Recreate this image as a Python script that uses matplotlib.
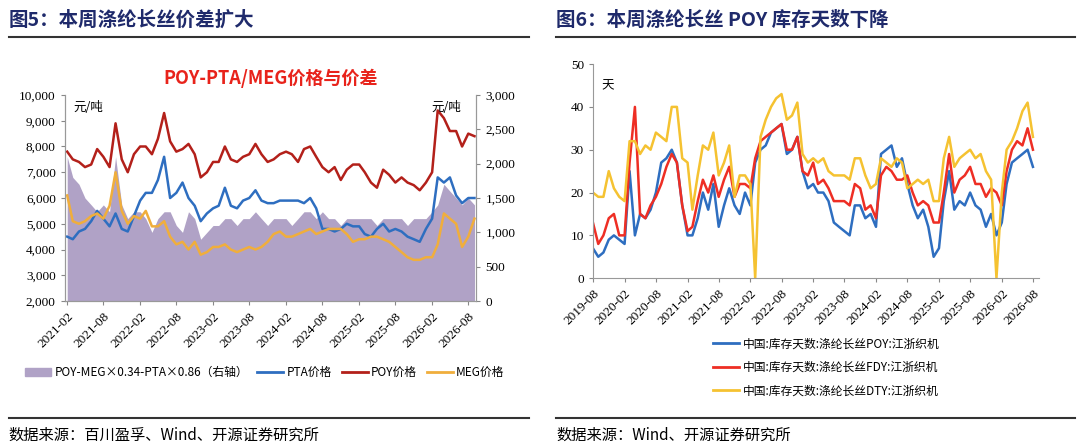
import matplotlib.pyplot as plt
import matplotlib.dates as mdates
import matplotlib.ticker as mticker
import pandas as pd
from matplotlib.lines import Line2D

plt.rcParams['font.family'] = ['Noto Sans CJK SC', 'DejaVu Sans']
SERIF = ['Liberation Serif', 'Noto Sans CJK SC']

# ---- left panel data (monthly, 2021-02 .. 2026-09) ----
left_dates = pd.date_range('2021-02-01', periods=68, freq='MS')
poy = [7800, 7500, 7400, 7200, 7300, 7900, 7600, 7200, 8900, 7500, 7000, 7700,
       8000, 8000, 7700, 8300, 9300, 8200, 7800, 7900, 8100, 7700, 6800, 7000,
       7400, 7400, 8000, 7500, 7400, 7600, 7700, 8100, 7700, 7400, 7500, 7700,
       7800, 7700, 7400, 7900, 8000, 7600, 7200, 7000, 7200, 6700, 7100, 7300,
       7300, 7000, 6600, 6400, 7100, 6900, 6600, 6800, 6600, 6500, 6300, 6600,
       7000, 9400, 9100, 8600, 8600, 8000, 8500, 8400]
pta = [4500, 4400, 4700, 4800, 5100, 5500, 5200, 4900, 5400, 4800, 4700, 5300,
       5900, 6200, 6200, 6700, 7600, 6000, 6200, 6600, 6000, 5700, 5100, 5400,
       5600, 5700, 6400, 5700, 5600, 5900, 6000, 6300, 5900, 5800, 5800, 5900,
       5900, 5900, 5900, 5800, 6000, 5600, 4800, 4800, 4700, 4800, 5000, 4900,
       4900, 4600, 4500, 4800, 5000, 4700, 4800, 4700, 4500, 4400, 4300, 4800,
       5200, 6800, 6600, 6800, 6100, 5800, 6000, 6000]
meg = [6100, 5100, 5000, 5100, 5300, 5400, 5200, 5700, 7000, 5500, 5000, 5300,
       5200, 5500, 4900, 4900, 5100, 4500, 4200, 4300, 4000, 4300, 3800, 3900,
       4100, 4100, 4200, 4000, 3900, 4000, 4100, 4000, 4100, 4300, 4600, 4700,
       4500, 4500, 4600, 4700, 4800, 4600, 4700, 4800, 4800, 4800, 4600, 4300,
       4400, 4400, 4500, 4500, 4400, 4300, 4100, 3900, 3700, 3600, 3600, 3700,
       3700, 4200, 5400, 5200, 5000, 4100, 4500, 5200]
spread = [2100, 1800, 1700, 1500, 1400, 1300, 1400, 1300, 2100, 1400, 1200, 1300,
          1300, 1200, 1000, 1200, 1300, 1300, 1100, 1000, 1300, 1200, 900, 1000,
          1100, 1100, 1200, 1200, 1100, 1200, 1200, 1300, 1200, 1100, 1200, 1200,
          1200, 1100, 1200, 1300, 1300, 1200, 1300, 1200, 1200, 1100, 1200, 1200,
          1200, 1200, 1200, 1100, 1200, 1200, 1200, 1200, 1100, 1200, 1200, 1200,
          1300, 1400, 1700, 1600, 1500, 1400, 1500, 1400]

# ---- right panel data (monthly, 2019-08 .. 2026-08) ----
right_dates = pd.date_range('2019-08-01', periods=85, freq='MS')
poy_days = [7, 5, 6, 9, 10, 9, 8, 25, 10, 15, 14, 16, 20, 27, 28, 30, 27, 17,
            10, 10, 14, 20, 16, 22, 12, 17, 21, 17, 15, 20, 17, 27, 30, 31, 34, 35,
            36, 29, 30, 33, 25, 21, 22, 20, 20, 18, 13, 12, 11, 10, 17, 17, 14, 15,
            12, 29, 30, 31, 26, 28, 22, 17, 14, 16, 12, 5, 7, 18, 25, 16, 18, 17,
            20, 17, 16, 12, 15, 10, 13, 22, 27, 28, 29, 30, 26]
fdy_days = [13, 8, 10, 14, 15, 10, 10, 27, 40, 15, 14, 17, 19, 22, 26, 29, 27, 17,
            11, 12, 18, 23, 20, 24, 19, 23, 26, 19, 22, 22, 21, 28, 32, 33, 34, 35,
            36, 30, 30, 33, 25, 24, 27, 22, 23, 21, 18, 18, 18, 17, 22, 21, 16, 17,
            14, 24, 26, 25, 23, 23, 24, 20, 17, 18, 17, 13, 13, 20, 29, 20, 23, 24,
            26, 22, 22, 19, 21, 20, 17, 25, 30, 32, 31, 35, 30]
dty_days = [20, 19, 19, 25, 21, 19, 18, 32, 32, 29, 31, 30, 34, 33, 32, 40, 40, 28,
            27, 16, 24, 31, 30, 34, 24, 27, 31, 19, 24, 24, 22, 0, 33, 37, 40, 42,
            43, 37, 38, 41, 29, 27, 28, 27, 28, 25, 24, 24, 24, 23, 28, 28, 24, 21,
            22, 28, 27, 26, 28, 27, 21, 22, 23, 22, 23, 18, 18, 28, 33, 26, 28, 29,
            30, 28, 29, 25, 23, 0, 20, 30, 32, 35, 39, 41, 33]

navy = '#1F2A6B'
fig = plt.figure(figsize=(10.8, 4.48), dpi=100)

# headers / footers
fig.text(0.008, 0.955, '图5：本周涤纶长丝价差扩大', fontsize=14, fontweight='bold', color=navy, va='center')
fig.text(0.515, 0.955, '图6：本周涤纶长丝 POY 库存天数下降', fontsize=14, fontweight='bold', color=navy, va='center')
for x0, x1 in [(0.008, 0.49), (0.515, 0.995)]:
    for y in (0.917, 0.067):
        fig.add_artist(Line2D([x0, x1], [y, y], color='#333333', lw=1.5))
fig.text(0.008, 0.028, '数据来源：百川盈孚、Wind、开源证券研究所', fontsize=11, va='center')
fig.text(0.515, 0.028, '数据来源：Wind、开源证券研究所', fontsize=11, va='center')

# ---- left chart ----
ax = fig.add_axes([0.060, 0.328, 0.381, 0.46])
ax2 = ax.twinx()
ax2.fill_between(left_dates, spread, 0, color='#B0A2C6', lw=0)
ax2.set_ylim(0, 3000)
ax2.set_yticks(range(0, 3001, 500))
ax.set_zorder(ax2.get_zorder() + 1)
ax.patch.set_visible(False)
ax.plot(left_dates, pta, color='#2E6EC0', lw=1.8)
ax.plot(left_dates, poy, color='#B3201A', lw=1.8)
ax.plot(left_dates, meg, color='#F0AE3C', lw=1.8)
ax.set_ylim(2000, 10000)
ax.set_yticks(range(2000, 10001, 1000))
ax.set_xlim(pd.Timestamp('2021-01-20'), pd.Timestamp('2026-09-10'))
ax.xaxis.set_major_locator(mdates.MonthLocator(bymonth=[2, 8]))
ax.xaxis.set_major_formatter(mdates.DateFormatter('%Y-%m'))
ax.yaxis.set_major_formatter(mticker.StrMethodFormatter('{x:,.0f}'))
ax2.yaxis.set_major_formatter(mticker.StrMethodFormatter('{x:,.0f}'))
for a in (ax, ax2):
    a.tick_params(labelsize=9.5, length=3, direction='out', color='#888888')
    for lab in a.get_yticklabels():
        lab.set_family(SERIF)
    a.spines['top'].set_visible(False)
    for s in ('left', 'right', 'bottom'):
        a.spines[s].set_color('#999999')
for lab in ax.get_xticklabels():
    lab.set_rotation(45)
    lab.set_ha('right')
    lab.set_rotation_mode('anchor')
    lab.set_family(SERIF)
ax.text(0.02, 0.97, '元/吨', transform=ax.transAxes, fontsize=9, va='top')
ax.text(0.89, 0.97, '元/吨', transform=ax.transAxes, fontsize=9, va='top')
ax.set_title('POY-PTA/MEG价格与价差', color='#E8231B', fontsize=13, fontweight='bold', pad=8)
handles = [plt.Rectangle((0, 0), 1, 1, color='#B0A2C6'),
           Line2D([], [], color='#2E6EC0', lw=2), Line2D([], [], color='#B3201A', lw=2),
           Line2D([], [], color='#F0AE3C', lw=2)]
fig.legend(handles, ['POY-MEG×0.34-PTA×0.86（右轴）', 'PTA价格', 'POY价格', 'MEG价格'],
           loc='center', bbox_to_anchor=(0.245, 0.168), ncol=4, frameon=False,
           fontsize=8.5, handlelength=2.2, handletextpad=0.3, columnspacing=0.8)

# ---- right chart ----
bx = fig.add_axes([0.549, 0.379, 0.413, 0.478])
bx.plot(right_dates, poy_days, color='#2E6EC0', lw=1.8)
bx.plot(right_dates, fdy_days, color='#EE2E24', lw=1.8)
bx.plot(right_dates, dty_days, color='#F5C231', lw=1.8)
bx.set_ylim(0, 50)
bx.set_xlim(pd.Timestamp('2019-08-01'), pd.Timestamp('2026-09-05'))
bx.xaxis.set_major_locator(mdates.MonthLocator(bymonth=[2, 8]))
bx.xaxis.set_major_formatter(mdates.DateFormatter('%Y-%m'))
bx.tick_params(labelsize=9.5, length=3, color='#888888')
for s in ('top', 'right'):
    bx.spines[s].set_visible(False)
for s in ('left', 'bottom'):
    bx.spines[s].set_color('#999999')
for lab in bx.get_xticklabels():
    lab.set_rotation(45)
    lab.set_ha('right')
    lab.set_rotation_mode('anchor')
    lab.set_family(SERIF)
for lab in bx.get_yticklabels():
    lab.set_family(SERIF)
bx.text(0.02, 0.93, '天', transform=bx.transAxes, fontsize=9, va='top')
rh = [Line2D([], [], color=c, lw=2) for c in ('#2E6EC0', '#EE2E24', '#F5C231')]
fig.legend(rh, ['中国:库存天数:涤纶长丝POY:江浙织机', '中国:库存天数:涤纶长丝FDY:江浙织机',
                '中国:库存天数:涤纶长丝DTY:江浙织机'],
           loc='center', bbox_to_anchor=(0.765, 0.18), ncol=1, frameon=False,
           fontsize=8.5, handlelength=2.2, handletextpad=0.3, labelspacing=0.9)

fig.savefig('out.png', dpi=100)
